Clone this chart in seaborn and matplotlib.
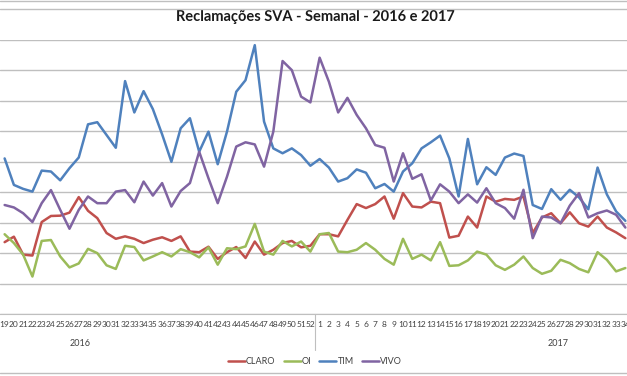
import matplotlib
matplotlib.use("Agg")
import matplotlib.pyplot as plt
import matplotlib.transforms as mtransforms
from matplotlib.lines import Line2D
import seaborn as sns
import pandas as pd

# semanas: 2016 (19..52) e 2017 (1..34)
weeks_2016 = list(range(19, 53))
weeks_2017 = list(range(1, 35))
week_labels = [str(w) for w in weeks_2016 + weeks_2017]

claro = [236, 254, 195, 192, 302, 322, 323, 333, 384, 339, 315, 266, 247, 255, 247, 233, 244,
         252, 240, 255, 205, 203, 221, 181, 203, 220, 184, 238, 195, 211, 233, 240, 219, 224,
         262, 262, 255, 309, 361, 348, 361, 386, 313, 397, 353, 350, 369, 364, 251, 257, 320,
         284, 386, 369, 378, 375, 386, 266, 317, 331, 298, 334, 298, 287, 320, 284, 268, 249]
oi = [262, 233, 195, 123, 240, 243, 189, 153, 166, 214, 200, 160, 148, 224, 220, 176, 189,
      203, 189, 213, 203, 186, 219, 162, 216, 213, 222, 296, 205, 195, 240, 222, 238, 205,
      262, 266, 205, 203, 211, 233, 211, 181, 162, 247, 181, 195, 176, 236, 158, 160, 176,
      205, 195, 160, 145, 162, 189, 151, 132, 142, 178, 167, 148, 137, 203, 178, 140, 151]
tim = [511, 424, 411, 402, 471, 468, 439, 479, 514, 623, 630, 588, 546, 765, 662, 732, 673,
       590, 500, 610, 643, 533, 599, 492, 599, 730, 768, 883, 632, 544, 528, 544, 522, 487,
       509, 481, 435, 446, 475, 464, 413, 427, 402, 468, 495, 544, 564, 586, 511, 386, 575,
       426, 482, 457, 514, 527, 519, 358, 345, 410, 375, 408, 383, 344, 481, 393, 337, 306]
vivo = [358, 350, 331, 302, 364, 407, 342, 280, 342, 386, 364, 364, 402, 407, 367, 435, 389,
        430, 353, 404, 430, 533, 446, 364, 451, 550, 564, 557, 484, 599, 831, 801, 714, 695,
        842, 763, 662, 710, 654, 610, 555, 546, 435, 528, 444, 459, 373, 426, 402, 364, 393,
        366, 413, 364, 348, 313, 408, 249, 320, 317, 298, 356, 397, 317, 331, 340, 326, 284]

series = {"CLARO": claro, "OI": oi, "TIM": tim, "VIVO": vivo}
colors = {"CLARO": "#C0504D", "OI": "#9BBB59", "TIM": "#4F81BD", "VIVO": "#8064A2"}
years = ["2016", "2017"]
year_centres = [8.1, 59.7]

rows = []
for name, vals in series.items():
    for i, v in enumerate(vals):
        rows.append({"idx": i, "valor": v, "operadora": name})
df = pd.DataFrame(rows)

sns.set_style("white")
plt.rcParams["font.family"] = ["Liberation Sans Narrow", "Lato", "DejaVu Sans"]

fig = plt.figure(figsize=(6.27, 3.76), dpi=100)
ax = fig.add_axes([0, 1 - 314 / 376, 630 / 627, 274 / 376])

sns.lineplot(data=df, x="idx", y="valor", hue="operadora", palette=colors,
             linewidth=1.8, ax=ax)

n = len(week_labels)
ax.set_xlim(-0.5, n - 0.5)
ax.set_ylim(0, 900)
ax.set_yticks(range(0, 901, 100))
ax.yaxis.grid(True, color="#BFBFBF", linewidth=1.0)
ax.tick_params(axis="y", left=False, labelleft=False)
for s in ["top", "left", "right"]:
    ax.spines[s].set_visible(False)
ax.spines["bottom"].set_color("#BFBFBF")
ax.set_xlabel("")
ax.set_ylabel("")

ax.set_xticks(range(n))
ax.set_xticklabels(week_labels, fontsize=6, color="#404040")
ax.set_xticks([i - 0.5 for i in range(n + 1)], minor=True)
ax.tick_params(axis="x", which="major", length=0, pad=5)
ax.tick_params(axis="x", which="minor", length=16, width=0.8, color="#BFBFBF")

# separador entre os anos
ax.axvline(len(weeks_2016) - 0.5, ymin=-36 / 274, ymax=0, clip_on=False,
           color="#BFBFBF", linewidth=0.8)
trans = mtransforms.blended_transform_factory(ax.transData, ax.transAxes)
for yr, xc in zip(years, year_centres):
    ax.text(xc, -29 / 274, yr, transform=trans, ha="center", va="center",
            fontsize=6.5, color="#404040")

ax.set_title("Reclamações SVA - Semanal - 2016 e 2017", fontsize=10.5,
             fontweight="bold", family=["Lato", "DejaVu Sans"], color="#1a1a1a", y=1.0, pad=14)

sns.move_legend(ax, "center", bbox_to_anchor=(0.502, 1 - 362 / 376),
                bbox_transform=fig.transFigure, ncol=4, frameon=False, title=None,
                fontsize=6.5, handlelength=1.9, columnspacing=0.9, handletextpad=0.1)
for t in ax.get_legend().get_texts():
    t.set_color("#404040")

for yy in [0.5, 9.3, 373]:
    fig.add_artist(Line2D([0, 1], [1 - yy / 376] * 2, transform=fig.transFigure,
                          color="#BFBFBF", linewidth=1.0))

fig.savefig("out.png", dpi=100)
